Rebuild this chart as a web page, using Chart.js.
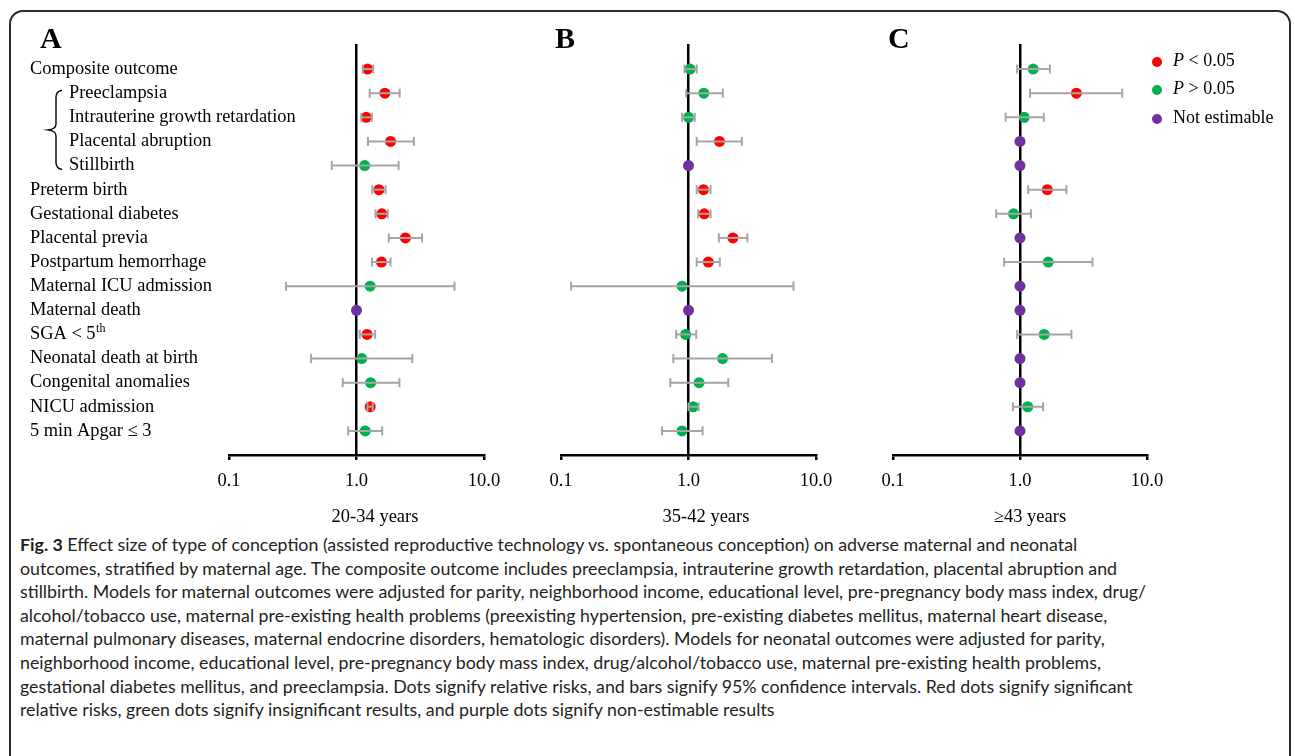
<!DOCTYPE html>
<html>
<head>
<meta charset="utf-8">
<title>Fig. 3</title>
<script src="https://cdn.jsdelivr.net/npm/chart.js@4.4.1/dist/chart.umd.min.js"></script>
<style>
  body {
    margin: 0;
    background: #fff;
    width: 1295px;
    height: 756px;
    overflow: hidden;
    position: relative;
  }
  #frame {
    position: absolute;
    left: 9px;
    top: 10px;
    width: 1278px;
    height: 800px;
    border: 2px solid #2b2b2b;
    border-radius: 14px;
  }
  canvas {
    position: absolute;
    top: 0;
  }
  .legend-item {
    position: absolute;
    left: 1152px;
    height: 20px;
    line-height: 20px;
    font-family: "Liberation Serif", serif;
    font-size: 18px;
    color: #000;
    white-space: nowrap;
  }
  .legend-item span.dot {
    display: inline-block;
    width: 10px;
    height: 10px;
    border-radius: 50%;
    margin-right: 11px;
    vertical-align: -1px;
  }
  #caption {
    position: absolute;
    left: 20px;
    top: 533px;
    font-family: Lato, sans-serif;
    font-size: 17.8px;
    line-height: 23.6px;
    color: #231f20;
    white-space: nowrap;
  }
</style>
</head>
<body>
<div id="frame"></div>
<canvas id="panel-a" width="520" height="530" style="left:0px"></canvas>
<canvas id="panel-b" width="330" height="530" style="left:520px"></canvas>
<canvas id="panel-c" width="445" height="530" style="left:850px"></canvas>
<div id="legend"></div>
<div id="caption">
<b>Fig. 3</b> Effect size of type of conception (assisted reproductive technology vs. spontaneous conception) on adverse maternal and neonatal<br>
outcomes, stratified by maternal age. The composite outcome includes preeclampsia, intrauterine growth retardation, placental abruption and<br>
stillbirth. Models for maternal outcomes were adjusted for parity, neighborhood income, educational level, pre-pregnancy body mass index, drug/<br>
alcohol/tobacco use, maternal pre-existing health problems (preexisting hypertension, pre-existing diabetes mellitus, maternal heart disease,<br>
maternal pulmonary diseases, maternal endocrine disorders, hematologic disorders). Models for neonatal outcomes were adjusted for parity,<br>
neighborhood income, educational level, pre-pregnancy body mass index, drug/alcohol/tobacco use, maternal pre-existing health problems,<br>
gestational diabetes mellitus, and preeclampsia. Dots signify relative risks, and bars signify 95% confidence intervals. Red dots signify significant<br>
relative risks, green dots signify insignificant results, and purple dots signify non-estimable results
</div>
<script>
"use strict";

// outcome rows, top to bottom
const ROW_LABELS = ["Composite outcome", "Preeclampsia", "Intrauterine growth retardation",
  "Placental abruption", "Stillbirth", "Preterm birth", "Gestational diabetes",
  "Placental previa", "Postpartum hemorrhage", "Maternal ICU admission", "Maternal death",
  "SGA < 5", "Neonatal death at birth", "Congenital anomalies", "NICU admission",
  "5 min Apgar \u2264 3"];
// rows that belong to the composite outcome (indented, with brace)
const COMPOSITE_ROWS = [1, 2, 3, 4];
const TICK_VALUES = [0.1, 1, 10];
const PANEL_TITLES = ["20-34 years", "35-42 years", "\u226543 years"];

// relative risks and 95% CI, null = not estimable
const A_RR = [1.22, 1.67, 1.19, 1.85, 1.16, 1.50, 1.58, 2.42, 1.57, 1.28, 1.00, 1.21, 1.10, 1.29, 1.28, 1.17];
const A_LOW = [1.12, 1.27, 1.09, 1.23, 0.64, 1.33, 1.41, 1.79, 1.32, 0.28, null, 1.06, 0.44, 0.78, 1.22, 0.86];
const A_HIGH = [1.35, 2.18, 1.32, 2.82, 2.14, 1.69, 1.76, 3.27, 1.85, 5.87, null, 1.40, 2.74, 2.17, 1.34, 1.59];
const A_SIG = ["sig", "sig", "sig", "sig", "ns", "sig", "sig", "sig", "sig", "ns", "ne", "sig", "ns", "ns", "sig", "ns"];

const B_RR = [1.03, 1.32, 1.00, 1.75, 1.00, 1.31, 1.33, 2.23, 1.43, 0.89, 1.00, 0.95, 1.85, 1.21, 1.09, 0.89];
const B_LOW = [0.93, 0.96, 0.89, 1.16, null, 1.16, 1.19, 1.73, 1.16, 0.12, null, 0.80, 0.76, 0.72, 1.00, 0.62];
const B_HIGH = [1.16, 1.86, 1.12, 2.62, null, 1.49, 1.49, 2.90, 1.76, 6.66, null, 1.15, 4.51, 2.05, 1.20, 1.29];
const B_SIG = ["ns", "ns", "ns", "sig", "ne", "sig", "sig", "sig", "sig", "ns", "ne", "ns", "ns", "ns", "ns", "ns"];

const C_RR = [1.27, 2.78, 1.08, 1.00, 1.00, 1.64, 0.89, 1.00, 1.67, 1.00, 1.00, 1.55, 1.00, 1.00, 1.15, 1.00];
const C_LOW = [0.95, 1.20, 0.77, null, null, 1.16, 0.65, null, 0.75, null, null, 0.95, null, null, 0.88, null];
const C_HIGH = [1.72, 6.38, 1.54, null, null, 2.32, 1.22, null, 3.72, null, null, 2.54, null, null, 1.52, null];
const C_SIG = ["ns", "sig", "ns", "ne", "ne", "sig", "ns", "ne", "ns", "ne", "ne", "ns", "ne", "ne", "ns", "ne"];

const LEGEND_KEYS = ["sig", "ns", "ne"];
const LEGEND_LABELS = ["<i>P</i> &lt; 0.05", "<i>P</i> &gt; 0.05", "Not estimable"];

(function () {
  const DOT_COLORS = {sig: "#FF0000", ns: "#00B050", ne: "#7030A0"};
  const CI_COLOR = "#A5A5A5";
  const SERIF = "'Liberation Serif', 'Times New Roman', serif";

  window.addEventListener("load", init);

  function init() {
    makePanel("panel-a", A_RR, A_LOW, A_HIGH, A_SIG, {
      letter: "A", letterX: 40, title: PANEL_TITLES[0], titleX: 375,
      padLeft: 229, padRight: 36, rowLabels: true
    });
    makePanel("panel-b", B_RR, B_LOW, B_HIGH, B_SIG, {
      letter: "B", letterX: 35, title: PANEL_TITLES[1], titleX: 706 - 520,
      padLeft: 41, padRight: 34, rowLabels: false
    });
    makePanel("panel-c", C_RR, C_LOW, C_HIGH, C_SIG, {
      letter: "C", letterX: 38, title: PANEL_TITLES[2], titleX: 1030 - 850,
      padLeft: 43, padRight: 148, rowLabels: false
    });
    buildLegend();
  }

  function makePanel(canvasId, rr, low, high, sig, opts) {
    let datasets = [];
    for (let i = 0; i < rr.length; i++) {
      if (low[i] === null) {
        continue;
      }
      datasets.push({
        data: [{x: low[i], y: i}, {x: high[i], y: i}],
        showLine: true,
        borderColor: CI_COLOR,
        borderWidth: 2,
        pointStyle: "line",
        rotation: 90,
        pointRadius: 4.5,
        pointBorderColor: CI_COLOR,
        pointBorderWidth: 2,
        pointHoverRadius: 4.5
      });
    }
    datasets.push({
      data: rr.map((v, i) => ({x: v, y: i})),
      pointRadius: 5.5,
      pointHoverRadius: 5.5,
      pointBackgroundColor: sig.map(s => DOT_COLORS[s]),
      pointBorderWidth: 0
    });

    new Chart(id(canvasId), {
      type: "scatter",
      data: {datasets: datasets},
      options: {
        responsive: false,
        animation: false,
        events: [],
        layout: {
          padding: {left: opts.padLeft, right: opts.padRight, top: 44, bottom: 35}
        },
        scales: {
          x: {
            type: "logarithmic",
            min: 0.1,
            max: 10,
            afterBuildTicks: scale => {
              scale.ticks = TICK_VALUES.map(v => ({value: v}));
            },
            afterFit: scale => {
              scale.height = 40;
            },
            border: {display: true, color: "#000", width: 2.5},
            grid: {
              drawOnChartArea: true,
              color: c => (c.tick && c.tick.value === 1 ? "#000" : "rgba(0,0,0,0)"),
              tickColor: "#000",
              lineWidth: 2.5,
              tickLength: 5
            },
            ticks: {
              autoSkip: false,
              maxRotation: 0,
              padding: 10,
              color: "#000",
              font: {family: SERIF, size: 18.5},
              callback: v => Number(v).toFixed(1)
            }
          },
          y: {
            type: "linear",
            display: false,
            reverse: true,
            min: -1.04,
            max: 16
          }
        },
        plugins: {
          legend: {display: false},
          tooltip: {enabled: false},
          panelText: opts
        }
      },
      plugins: [panelText]
    });
  }

  const panelText = {
    id: "panelText",
    afterDraw(chart, args, opts) {
      let ctx = chart.ctx;
      ctx.save();
      ctx.fillStyle = "#000";

      ctx.font = "bold 30px " + SERIF;
      ctx.textAlign = "left";
      ctx.textBaseline = "alphabetic";
      ctx.fillText(opts.letter, opts.letterX, 48);

      ctx.font = "18.5px " + SERIF;
      ctx.textAlign = "center";
      ctx.textBaseline = "middle";
      ctx.fillText(opts.title, opts.titleX, 517);

      if (opts.rowLabels) {
        drawRowLabels(chart, ctx);
      }
      ctx.restore();
    }
  };

  function drawRowLabels(chart, ctx) {
    let yScale = chart.scales.y;
    ctx.font = "18.4px " + SERIF;
    ctx.textAlign = "left";
    ctx.textBaseline = "middle";
    ROW_LABELS.forEach((label, i) => {
      let x = COMPOSITE_ROWS.includes(i) ? 69 : 30;
      let y = yScale.getPixelForValue(i);
      ctx.fillText(label, x, y);
      if (label === "SGA < 5") {
        let w = ctx.measureText(label).width;
        ctx.font = "12px " + SERIF;
        ctx.fillText("th", x + w + 0.5, y - 6);
        ctx.font = "18.4px " + SERIF;
      }
    });

    // curly brace grouping the composite outcome parts
    let top = yScale.getPixelForValue(COMPOSITE_ROWS[0]) - 3;
    let bottom = yScale.getPixelForValue(COMPOSITE_ROWS[COMPOSITE_ROWS.length - 1]) + 4;
    let mid = (top + bottom) / 2;
    ctx.strokeStyle = "#000";
    ctx.lineWidth = 1.4;
    ctx.beginPath();
    ctx.moveTo(62, top);
    ctx.quadraticCurveTo(56, top + 1, 56, top + 7);
    ctx.lineTo(56, mid - 6);
    ctx.quadraticCurveTo(56, mid - 1, 48, mid);
    ctx.quadraticCurveTo(56, mid + 1, 56, mid + 6);
    ctx.lineTo(56, bottom - 7);
    ctx.quadraticCurveTo(56, bottom - 1, 62, bottom);
    ctx.stroke();
  }

  function buildLegend() {
    let legend = id("legend");
    let centers = [60, 88, 117];
    LEGEND_KEYS.forEach((key, i) => {
      let item = gen("div");
      item.className = "legend-item";
      item.style.top = (centers[i] - 10) + "px";
      let dot = gen("span");
      dot.className = "dot";
      dot.style.background = DOT_COLORS[key];
      item.appendChild(dot);
      let text = gen("span");
      text.innerHTML = LEGEND_LABELS[i];
      item.appendChild(text);
      legend.appendChild(item);
    });
  }

  function id(name) {
    return document.getElementById(name);
  }

  function gen(tagname) {
    return document.createElement(tagname);
  }
})();
</script>
</body>
</html>
